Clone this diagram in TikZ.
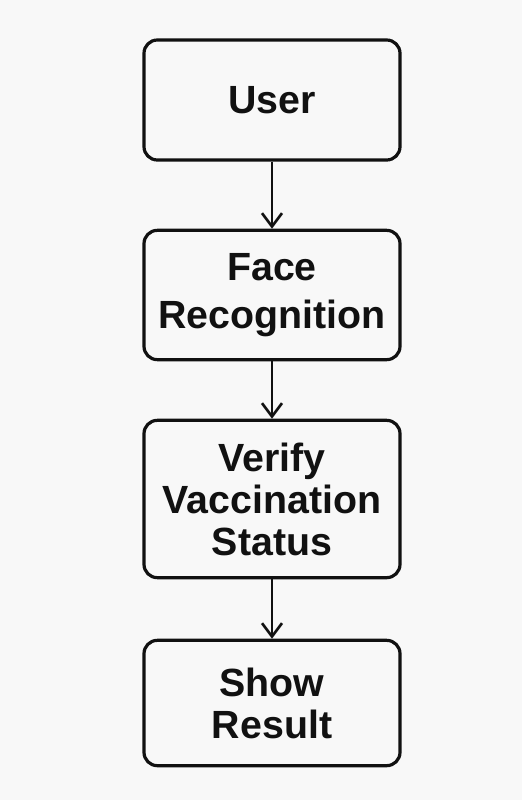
\documentclass[tikz,border=0pt]{standalone}
\usepackage{fontspec}
\setmainfont{Liberation Sans}
\usepackage{tikz}
\usetikzlibrary{arrows.meta,positioning}
\definecolor{flowink}{RGB}{17,17,17}
\definecolor{flowbg}{RGB}{248,248,248}

\begin{document}
\begin{tikzpicture}[x=0.75pt,y=-0.75pt,
  stepbox/.style={rectangle,rounded corners=10pt,draw=flowink,line width=2.4pt,fill=flowbg,
    minimum width=192pt,align=center,font=\fontsize{29.5}{31.5}\selectfont\bfseries,text=flowink},
  flow/.style={-{Straight Barb[length=10pt,width=15pt,line width=2pt]},line width=2pt,flowink}]
\fill[flowbg] (0,0) rectangle (522,800);
\useasboundingbox (0,0) rectangle (522,800);
\node[stepbox,minimum height=90pt] (user) at (272,100) {User};
\node[stepbox,minimum height=97pt] (face) at (272,295) {Face\\[4.5pt]Recognition};
\node[stepbox,minimum height=118pt] (verify) at (272,499) {Verify\\Vaccination\\Status};
\node[stepbox,minimum height=94pt] (show) at (272,703) {Show\\Result};
\foreach \u/\v in {user/face,face/verify,verify/show} \draw[flow] (\u)--(\v);
\end{tikzpicture}
\end{document}
